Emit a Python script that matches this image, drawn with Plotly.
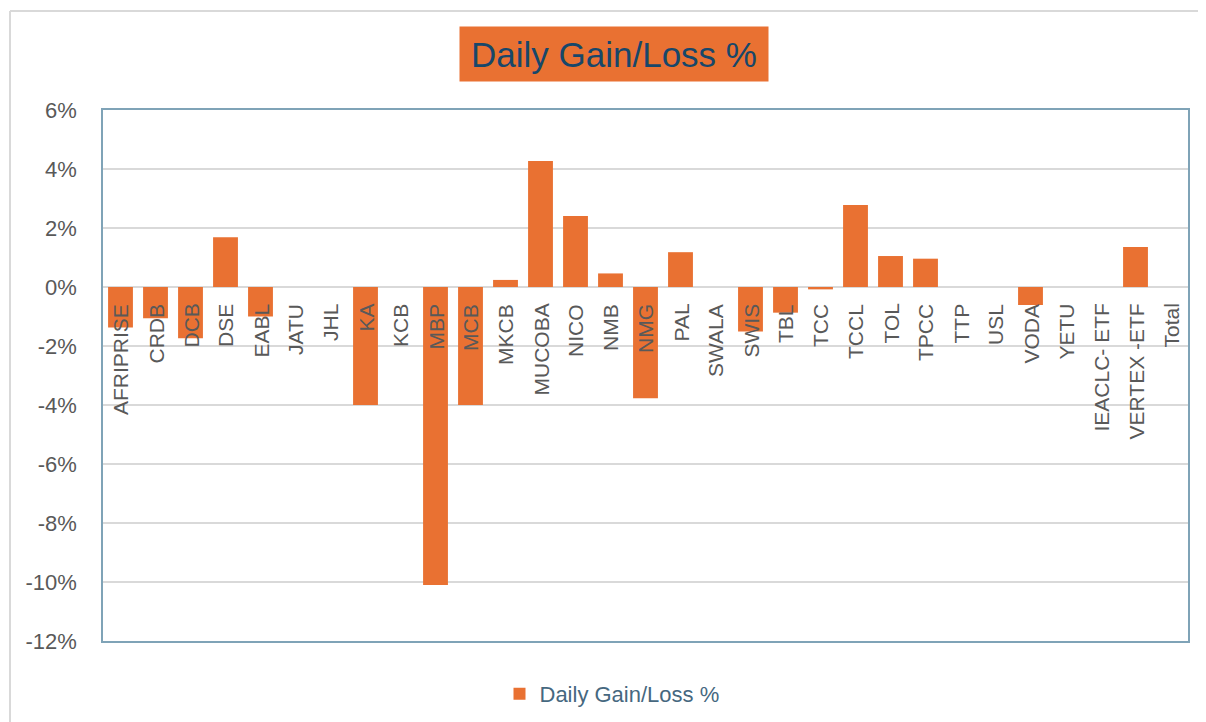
import plotly.graph_objects as go

categories = ["AFRIPRISE", "CRDB", "DCB", "DSE", "EABL", "JATU", "JHL", "KA", "KCB", "MBP",
              "MCB", "MKCB", "MUCOBA", "NICO", "NMB", "NMG", "PAL", "SWALA", "SWIS", "TBL",
              "TCC", "TCCL", "TOL", "TPCC", "TTP", "USL", "VODA", "YETU", "IEACLC- ETF",
              "VERTEX -ETF", "Total"]
values = [-1.37, -1.06, -1.74, 1.69, -1.00, 0.0, 0.0, -4.00, 0.0, -10.10,
          -4.00, 0.24, 4.27, 2.41, 0.46, -3.77, 1.18, 0.0, -1.51, -0.87,
          -0.08, 2.78, 1.05, 0.96, 0.0, 0.0, -0.61, 0.0, 0.0,
          1.36, 0.0]
tick_vals = [6, 4, 2, 0, -2, -4, -6, -8, -10, -12]
tick_text = ["6%", "4%", "2%", "0%", "-2%", "-4%", "-6%", "-8%", "-10%", "-12%"]
series_name = "Daily Gain/Loss %"
title_text = "Daily Gain/Loss %"

# page body has an 8px margin: figure origin sits at (8, 8) of the screenshot
OFF = 8
W, H = 1206 - OFF, 722 - OFF
L, R, T, B = 103 - OFF, 1188 - OFF, 110 - OFF, 641 - OFF
pw, ph = R - L, B - T

def px_x(x):
    return (x - OFF - L) / pw

def px_y(y):
    return (B - (y - OFF)) / ph

def cont_x(x):
    return (x - OFF) / W

def cont_y(y):
    return (H - (y - OFF)) / H

FONT = "Arial, Liberation Sans, sans-serif"
ORANGE = "#E97132"

fig = go.Figure()
fig.add_trace(go.Bar(
    x=categories, y=values, name=series_name,
    marker=dict(color=ORANGE, line=dict(width=0)),
    showlegend=True,
))

annotations = []
for c in categories:
    annotations.append(dict(
        x=c, y=0, xref="x", yref="y", text=c, textangle=-90,
        showarrow=False, yanchor="top", xanchor="center", yshift=-15,
        font=dict(family=FONT, size=21, color="#595959"),
    ))

annotations.append(dict(
    x=px_x(614), y=px_y(54), xref="paper", yref="paper", text=title_text,
    showarrow=False, xanchor="center", yanchor="middle",
    bgcolor=ORANGE, borderpad=3, width=302, height=48,
    font=dict(family=FONT, size=35, color="#17476A"),
))

shapes = [
    dict(type="line", xref="paper", yref="paper", x0=px_x(10), x1=px_x(1220),
         y0=px_y(11), y1=px_y(11), line=dict(color="#D9D9D9", width=2), layer="below"),
    dict(type="line", xref="paper", yref="paper", x0=px_x(10), x1=px_x(10),
         y0=px_y(11), y1=px_y(740), line=dict(color="#D9D9D9", width=2), layer="below"),
]

fig.update_layout(
    width=W, height=H,
    margin=dict(l=L, r=W - R, t=T, b=H - B, pad=0, autoexpand=False),
    paper_bgcolor="white", plot_bgcolor="white",
    bargap=0.29,
    font=dict(family=FONT, color="#595959"),
    xaxis=dict(showticklabels=False, showgrid=False, ticks="",
               showline=True, mirror=True, linecolor="#7FA3B7", linewidth=1.5,
               zeroline=False, fixedrange=True),
    yaxis=dict(range=[-12, 6], tickvals=tick_vals, ticktext=tick_text,
               showgrid=True, gridcolor="#D9D9D9", gridwidth=1.5,
               zeroline=True, zerolinecolor="#D9D9D9", zerolinewidth=1.5,
               showline=True, mirror=True, linecolor="#7FA3B7", linewidth=1.5,
               ticks="outside", ticklen=20, tickcolor="rgba(0,0,0,0)",
               tickfont=dict(family=FONT, size=22, color="#595959")),
    legend=dict(orientation="h", xref="container", yref="container",
                x=cont_x(612), y=cont_y(694), xanchor="center", yanchor="middle",
                font=dict(family=FONT, size=22, color="#46687F"), bgcolor="rgba(0,0,0,0)"),
    annotations=annotations,
    shapes=shapes,
)

fig.write_html("out.html")
